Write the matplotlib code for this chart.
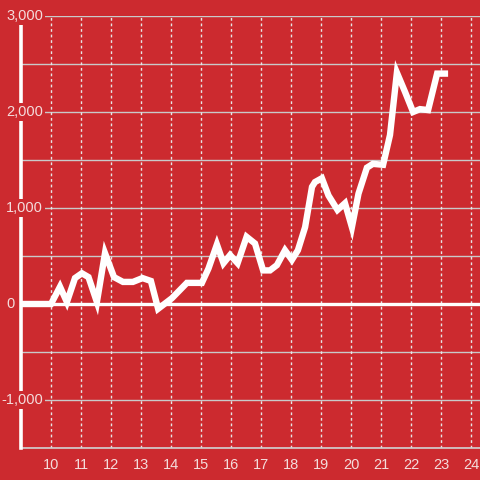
import matplotlib
matplotlib.use('Agg')
import matplotlib.pyplot as plt

bg = '#cc2a2f'
txt = '#f4dcdc'

# series
xs = [9.0, 10.0, 10.3, 10.53, 10.8, 11.03, 11.25, 11.53, 11.8, 12.1, 12.4, 12.73,
      13.05, 13.33, 13.57, 14.03, 14.53, 15.03, 15.25, 15.53, 15.75, 15.97, 16.22,
      16.52, 16.8, 17.07, 17.3, 17.53, 17.8, 18.03, 18.23, 18.47, 18.7, 18.8, 19.03,
      19.25, 19.55, 19.8, 20.03, 20.25, 20.53, 20.73, 21.07, 21.3, 21.53, 21.8,
      22.07, 22.3, 22.57, 22.87, 23.13]
ys = [0, 0, 180, 20, 270, 320, 280, 20, 530, 280, 230, 230,
      270, 240, -50, 60, 220, 220, 370, 620, 425, 510, 425,
      700, 630, 350, 350, 405, 560, 460, 560, 800, 1220, 1270, 1310,
      1130, 980, 1050, 800, 1150, 1420, 1460, 1450, 1760, 2410, 2210,
      2000, 2030, 2020, 2400, 2400]

xticks = list(range(10, 25))
yticks = [3000, 2000, 1000, 0, -1000]
ylabels = ['3,000', '2,000', '1,000', '0', '-1,000']

fig = plt.figure(figsize=(4.8, 4.8), dpi=100, facecolor=bg)
ax = fig.add_axes([21 / 480, 32 / 480, 459 / 480, 432 / 480])
ax.set_facecolor(bg)
ax.set_xlim(9, 24.3)
ax.set_ylim(-1500, 3000)

# grid
for v in range(-1500, 3001, 500):
    ax.axhline(v, color='#c9c9c9', lw=1.0, zorder=1)
for v in xticks:
    ax.axvline(v, color='#e6e6e6', lw=1.0, ls=(0, (2, 2)), zorder=1)
ax.axhline(0, color='white', lw=2.4, zorder=2)

ax.plot(xs, ys, color='white', lw=4.6, zorder=3, solid_joinstyle='miter')

for s in ['top', 'right']:
    ax.spines[s].set_visible(False)
ax.spines['left'].set_color('white')
ax.spines['left'].set_linewidth(2.6)
ax.spines['left'].set_zorder(4)
ax.spines['bottom'].set_color('#d0d0d0')
ax.spines['bottom'].set_linewidth(1.2)

ax.set_xticks(xticks)
ax.set_xticklabels([str(t) for t in xticks], color=txt, fontsize=10.5,
                   family='Liberation Sans')
ax.tick_params(axis='x', length=0, pad=7)
ax.set_yticks([])

# y labels sit over the spine with a red box behind them
for v, lab in zip(yticks, ylabels):
    if v == 0:
        ax.text(-6 / 459, v, lab, transform=ax.get_yaxis_transform(),
                ha='right', va='center', color=txt, fontsize=10.5,
                family='Liberation Sans', zorder=5)
    else:
        ax.text(22 / 459, v, lab, transform=ax.get_yaxis_transform(),
                ha='right', va='center', color=txt, fontsize=10.5,
                family='Liberation Sans', zorder=5,
                bbox=dict(facecolor=bg, edgecolor='none', pad=1.5))

fig.savefig('out.png', dpi=100, facecolor=bg)
